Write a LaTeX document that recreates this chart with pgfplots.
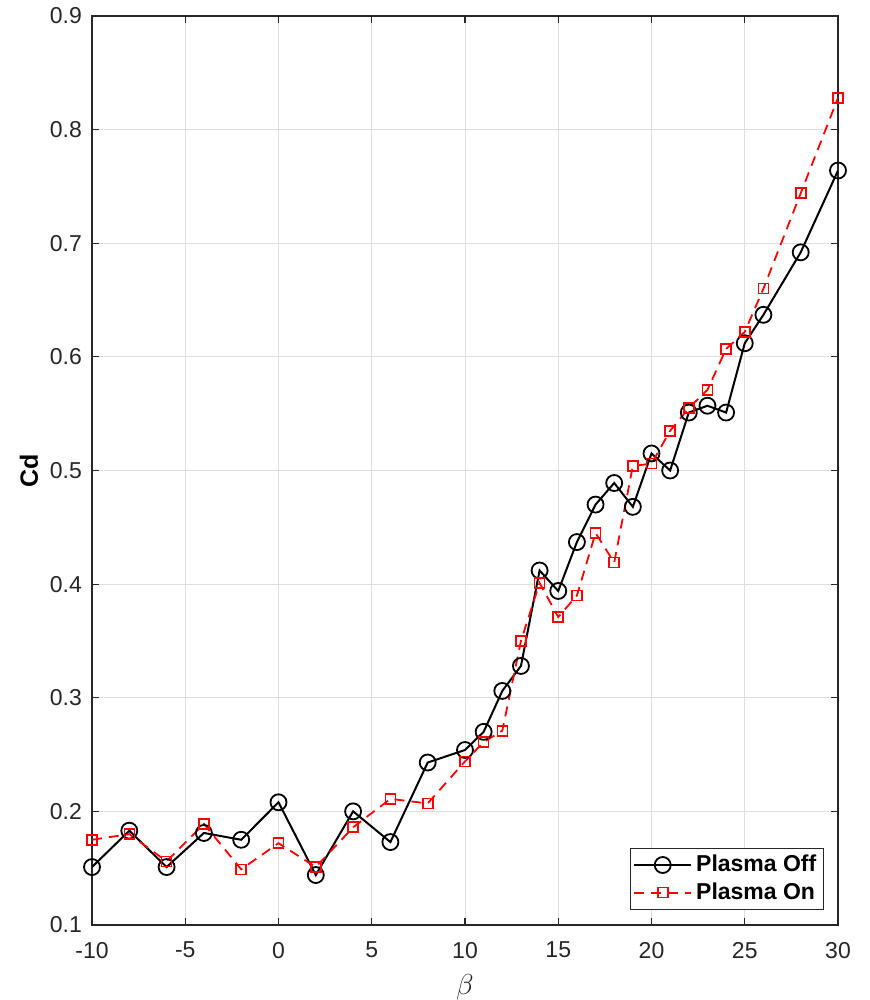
\documentclass[border=0pt]{standalone}
\usepackage{pgfplots}
\pgfplotsset{compat=1.18}
\usepackage{fontspec}
\setmainfont{Liberation Sans}
\definecolor{axgray}{RGB}{38,38,38}
\definecolor{gridgray}{RGB}{222,222,222}
\begin{document}
\begin{tikzpicture}
\begin{axis}[
  scale only axis, width=373pt, height=454.5pt,
  xmin=-10, xmax=30, ymin=0.1, ymax=0.9,
  xtick={-10,-5,...,30}, ytick={0.1,0.2,0.3,0.4,0.5,0.6,0.7,0.8,0.9},
  grid=major, major grid style={gridgray, line width=0.5pt},
  tick align=inside, xtick pos=both, ytick pos=both,
  major tick length=3.5pt,
  axis line style={axgray, line width=0.6pt},
  tick style={axgray, line width=0.6pt},
  ticklabel style={font=\fontsize{11.5}{13}\selectfont, text=axgray},
  /pgf/number format/assume math mode=true,
  yticklabel style={/pgf/number format/fixed, /pgf/number format/precision=1, /pgf/number format/fixed zerofill, xshift=-1.5pt},
  xticklabel style={yshift=-5pt},
  xlabel={$\beta$}, ylabel={\textbf{Cd}},
  xlabel style={font=\fontsize{13.5}{15}\selectfont, text=axgray, yshift=-1pt},
  ylabel style={font=\fontsize{12.5}{14}\selectfont, text=black, yshift=-1pt},
  legend style={at={(0.981,0.0165)}, anchor=south east, draw=axgray, line width=0.5pt,
    font=\bfseries\fontsize{11.5}{13}\selectfont, inner sep=1.5pt, row sep=0pt},
  legend cell align=left,
  legend image code/.code={\draw[mark repeat=2,mark phase=2] plot coordinates {(0cm,0cm) (0.5cm,0cm) (1cm,0cm)};},
]
\addplot[black, line width=1pt, mark=o, mark size=4pt, mark options={solid, line width=0.9pt}] coordinates {
(-10,0.151) (-8,0.183) (-6,0.151) (-4,0.181) (-2,0.175) (0,0.208) (2,0.144) (4,0.200) (6,0.173)
(8,0.243) (10,0.254) (11,0.270) (12,0.306) (13,0.328) (14,0.412) (15,0.394) (16,0.437)
(17,0.470) (18,0.489) (19,0.468) (20,0.515) (21,0.500) (22,0.551) (23,0.557) (24,0.551)
(25,0.612) (26,0.637) (28,0.692) (30,0.764)
};
\addlegendentry{Plasma Off}
\addplot[red, line width=0.9pt, dashed, dash pattern=on 5pt off 3.5pt, mark=square, mark size=2.5pt, mark options={solid, line width=0.8pt}] coordinates {
(-10,0.175) (-8,0.180) (-6,0.156) (-4,0.189) (-2,0.149) (0,0.172) (2,0.151) (4,0.186) (6,0.211)
(8,0.207) (10,0.244) (11,0.261) (12,0.271) (13,0.350) (14,0.401) (15,0.371) (16,0.390)
(17,0.445) (18,0.419) (19,0.504) (20,0.506) (21,0.535) (22,0.555) (23,0.571) (24,0.607)
(25,0.622) (26,0.660) (28,0.744) (30,0.828)
};
\addlegendentry{Plasma On}
\end{axis}
\pgfresetboundingbox
\useasboundingbox (current axis.south west) ++(-46pt,-37.5pt) rectangle ++(435pt,500pt);
\end{tikzpicture}
\end{document}
